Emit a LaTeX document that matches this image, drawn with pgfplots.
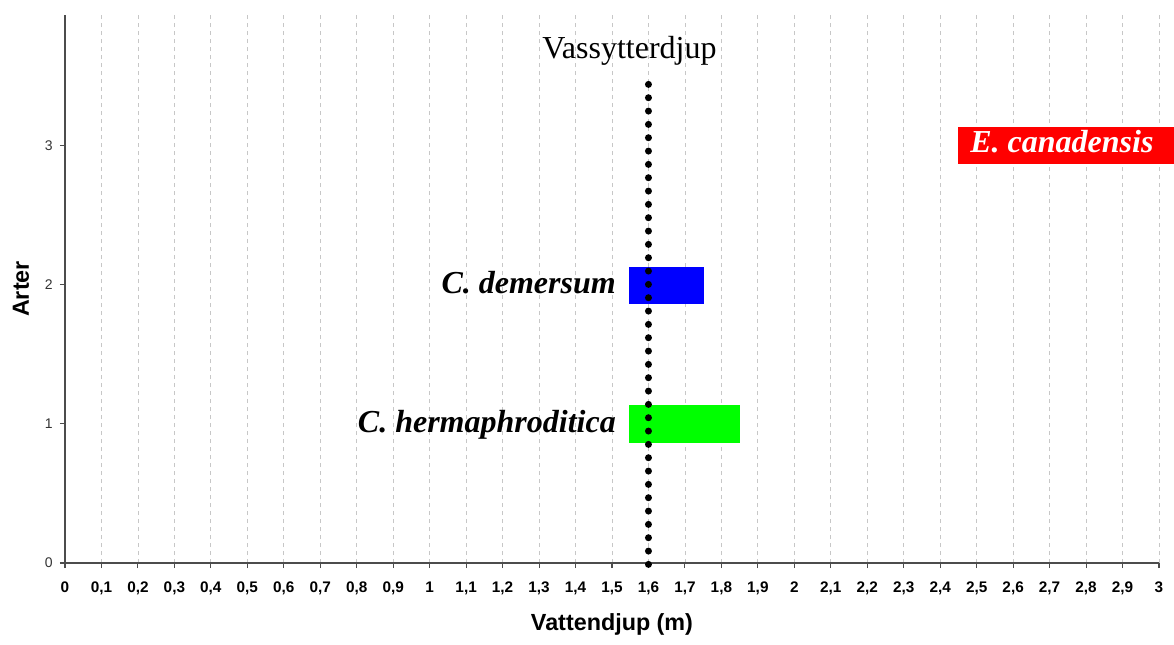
\documentclass[border=0pt]{standalone}
\usepackage{fontspec}
\setmainfont{Liberation Serif}
\setsansfont{Liberation Sans}
\usepackage{pgfplots}
\pgfplotsset{compat=1.18}
\begin{document}
\begin{tikzpicture}
\path[use as bounding box] (-48.75pt,-60.75pt) rectangle (831.75pt,422.25pt);
\begin{axis}[
  at={(0,0)}, anchor=south west, scale only axis,
  width=820.5pt, height=411pt,
  xmin=0, xmax=3, ymin=0, ymax=3.94,
  clip=false,
  axis x line*=bottom, axis y line*=left,
  axis line style={draw=black!70, line width=0.8pt},
  xtick={0,0.1,0.2,0.3,0.4,0.5,0.6,0.7,0.8,0.9,1,1.1,1.2,1.3,1.4,1.5,1.6,1.7,1.8,1.9,2,2.1,2.2,2.3,2.4,2.5,2.6,2.7,2.8,2.9,3},
  ytick={0,1,2,3},
  tick align=outside, major tick length=3.75pt,
  tick style={draw=black!70, line width=0.8pt},
  xmajorgrids,
  grid style={draw=black!22, dash pattern=on 3pt off 3pt, line width=0.6pt},
  /pgf/number format/assume math mode=true,
  /pgf/number format/use comma,
  xticklabel style={font=\sffamily\bfseries\fontsize{11.5}{13}\selectfont, yshift=-7pt},
  yticklabel style={font=\sffamily\fontsize{10.5}{12}\selectfont, text=black!80, xshift=-2pt},
  xlabel={Vattendjup (m)},
  ylabel={Arter},
  xlabel style={font=\sffamily\bfseries\fontsize{17.5}{20}\selectfont, at={(axis description cs:0.5,0)}, anchor=base, yshift=-50.25pt},
  ylabel style={font=\sffamily\bfseries\fontsize{17.5}{20}\selectfont, at={(axis description cs:-0.0402,0.5)}, anchor=center},
]
% bars
\addplot[draw=none, fill={rgb,255:red,0;green,255;blue,0}] coordinates {(1.547,0.865) (1.851,0.865) (1.851,1.137) (1.547,1.137)} -- cycle;
\addplot[draw=none, fill={rgb,255:red,0;green,0;blue,255}] coordinates {(1.547,1.863) (1.753,1.863) (1.753,2.13) (1.547,2.13)} -- cycle;
\addplot[draw=none, fill={rgb,255:red,255;green,0;blue,0}] coordinates {(2.449,2.87) (3.04,2.87) (3.04,3.137) (2.449,3.137)} -- cycle;
% water level line
\addplot[black, line width=5.25pt, line cap=round, dash pattern=on 0pt off 10pt] coordinates {(1.6,-0.01) (1.6,3.51)};
% labels
\node[anchor=base, inner sep=0pt, font=\fontsize{24}{28}\selectfont] at (axis cs:1.548,3.63) {Vassytterdjup};
\node[anchor=base east, inner sep=0pt, font=\fontsize{24}{28}\selectfont\bfseries\itshape] at (axis cs:1.511,1.94) {C. demersum};
\node[anchor=base east, inner sep=0pt, font=\fontsize{24}{28}\selectfont\bfseries\itshape] at (axis cs:1.511,0.94) {C. hermaphroditica};
\node[anchor=base west, inner sep=0pt, text=white, font=\fontsize{24}{28}\selectfont\bfseries\itshape] at (axis cs:2.482,2.95) {E. canadensis};
\end{axis}
\end{tikzpicture}
\end{document}
